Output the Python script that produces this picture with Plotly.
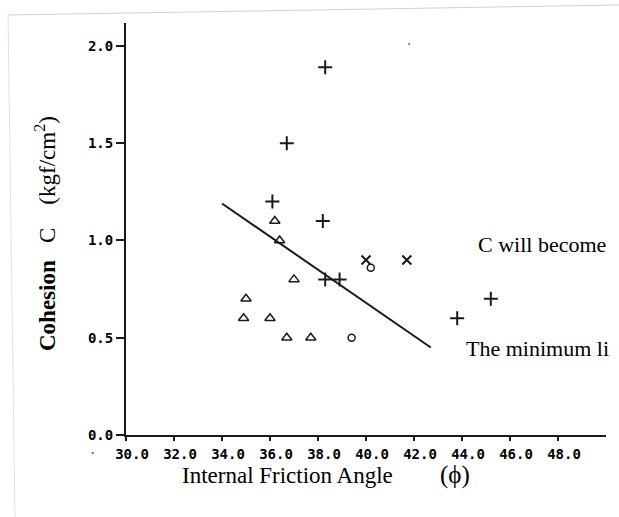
import plotly.graph_objects as go

# ---- data ----
plus_x = [38.3, 36.7, 36.1, 38.2, 38.3, 38.9, 43.8, 45.2]
plus_y = [1.89, 1.50, 1.20, 1.10, 0.80, 0.80, 0.60, 0.70]

cross_x = [40.0, 41.7]
cross_y = [0.90, 0.90]

circ_x = [40.2, 39.4]
circ_y = [0.86, 0.50]

tri_x = [36.2, 36.4, 37.0, 35.0, 34.9, 36.0, 36.7, 37.7]
tri_y = [1.10, 1.00, 0.80, 0.70, 0.60, 0.60, 0.50, 0.50]

speck_x = [41.8]
speck_y = [2.01]

line_x = [34.0, 42.7]
line_y = [1.19, 0.45]

x_ticks = [30, 32, 34, 36, 38, 40, 42, 44, 46, 48]
x_ticklabels = ["30.0", "32.0", "34.0", "36.0", "38.0", "40.0", "42.0", "44.0", "46.0", "48.0"]
y_ticks = [0.0, 0.5, 1.0, 1.5, 2.0]
y_ticklabels = ["0.0", "0.5", "1.0", "1.5", "2.0"]

x_title = "Internal Friction Angle"
x_title_symbol = "(ϕ)"
y_title = "<b>Cohesion</b>" + "\u00a0" * 3 + "C" + "\u00a0" * 4 + "(kgf/cm<sup>2</sup>)"
note_upper = "C will become"
note_lower = "The minimum li"

INK = "#1a1a1a"
SERIF = "Liberation Serif, Times New Roman, serif"
MONO = "DejaVu Sans Mono, monospace"

L, R, T, B = 126, 13, 23, 82
W, H = 619, 517
PW, PH = W - L - R, H - T - B


def px(xp):
    return (xp - L) / PW


def py(yp):
    return (H - B - yp) / PH


fig = go.Figure()
fig.add_trace(go.Scatter(x=line_x, y=line_y, mode="lines",
                         line=dict(color=INK, width=2), showlegend=False, hoverinfo="skip"))
fig.add_trace(go.Scatter(x=plus_x, y=plus_y, mode="markers", showlegend=False,
                         marker=dict(symbol="cross-thin-open", size=10, color=INK,
                                     line=dict(color=INK, width=2))))
fig.add_trace(go.Scatter(x=cross_x, y=cross_y, mode="markers", showlegend=False,
                         marker=dict(symbol="x-thin-open", size=9, color=INK,
                                     line=dict(color=INK, width=2))))
fig.add_trace(go.Scatter(x=circ_x, y=circ_y, mode="markers", showlegend=False,
                         marker=dict(symbol="circle-open", size=7, color=INK,
                                     line=dict(color=INK, width=1.5))))
fig.add_trace(go.Scatter(x=tri_x, y=tri_y, mode="markers", showlegend=False,
                         marker=dict(symbol="triangle-up-open", size=9, color=INK,
                                     line=dict(color=INK, width=1.5))))
fig.add_trace(go.Scatter(x=speck_x, y=speck_y, mode="markers", showlegend=False,
                         marker=dict(symbol="circle", size=2, color="#666")))

tickfont = dict(family=MONO, size=14, color="black", weight="bold")

fig.update_layout(
    width=W, height=H,
    margin=dict(l=L, r=R, t=T, b=B),
    paper_bgcolor="white", plot_bgcolor="white",
    xaxis=dict(range=[30, 50], tickvals=x_ticks, ticktext=x_ticklabels,
               showgrid=False, zeroline=False, showline=True, linecolor=INK, linewidth=2,
               ticks="outside", ticklen=4, tickwidth=1.5, tickcolor=INK,
               ticklabelshift=6, ticklabelstandoff=1,
               tickfont=tickfont),
    yaxis=dict(range=[0, 2.118], tickvals=y_ticks, ticktext=y_ticklabels,
               showgrid=False, zeroline=False, showline=True, linecolor=INK, linewidth=2,
               ticks="outside", ticklen=8, tickwidth=1.5, tickcolor=INK,
               tickfont=tickfont),
    annotations=[
        dict(x=px(180), y=py(475), xref="paper", yref="paper", text=x_title, showarrow=False,
             xanchor="left", yanchor="middle", font=dict(family=SERIF, size=23, color="black")),
        dict(x=px(455), y=py(475), xref="paper", yref="paper", text=x_title_symbol, showarrow=False,
             xanchor="center", yanchor="middle", font=dict(family=SERIF, size=25, color="black")),
        dict(x=px(45), y=py(234), xref="paper", yref="paper", text=y_title, showarrow=False,
             textangle=-90, xanchor="center", yanchor="middle",
             font=dict(family=SERIF, size=23, color="black")),
        dict(x=44.58, y=0.98, xref="x", yref="y", text=note_upper, showarrow=False,
             xanchor="left", yanchor="middle", font=dict(family=SERIF, size=22, color="black")),
        dict(x=44.08, y=0.447, xref="x", yref="y", text=note_lower, showarrow=False,
             xanchor="left", yanchor="middle", font=dict(family=SERIF, size=22, color="black")),
        dict(x=px(92), y=py(450), xref="paper", yref="paper", text=".", showarrow=False,
             xanchor="center", yanchor="middle", font=dict(family=MONO, size=12, color="#444")),
    ],
)

# faint scan-page border lines
fig.add_shape(type="line", xref="paper", yref="paper", x0=px(8), y0=py(15), x1=px(619), y1=py(5),
              line=dict(color="#d0d0d0", width=1))
fig.add_shape(type="line", xref="paper", yref="paper", x0=px(8), y0=py(15), x1=px(15), y1=py(517),
              line=dict(color="#e0e0e0", width=1))

fig.write_html("out.html")
